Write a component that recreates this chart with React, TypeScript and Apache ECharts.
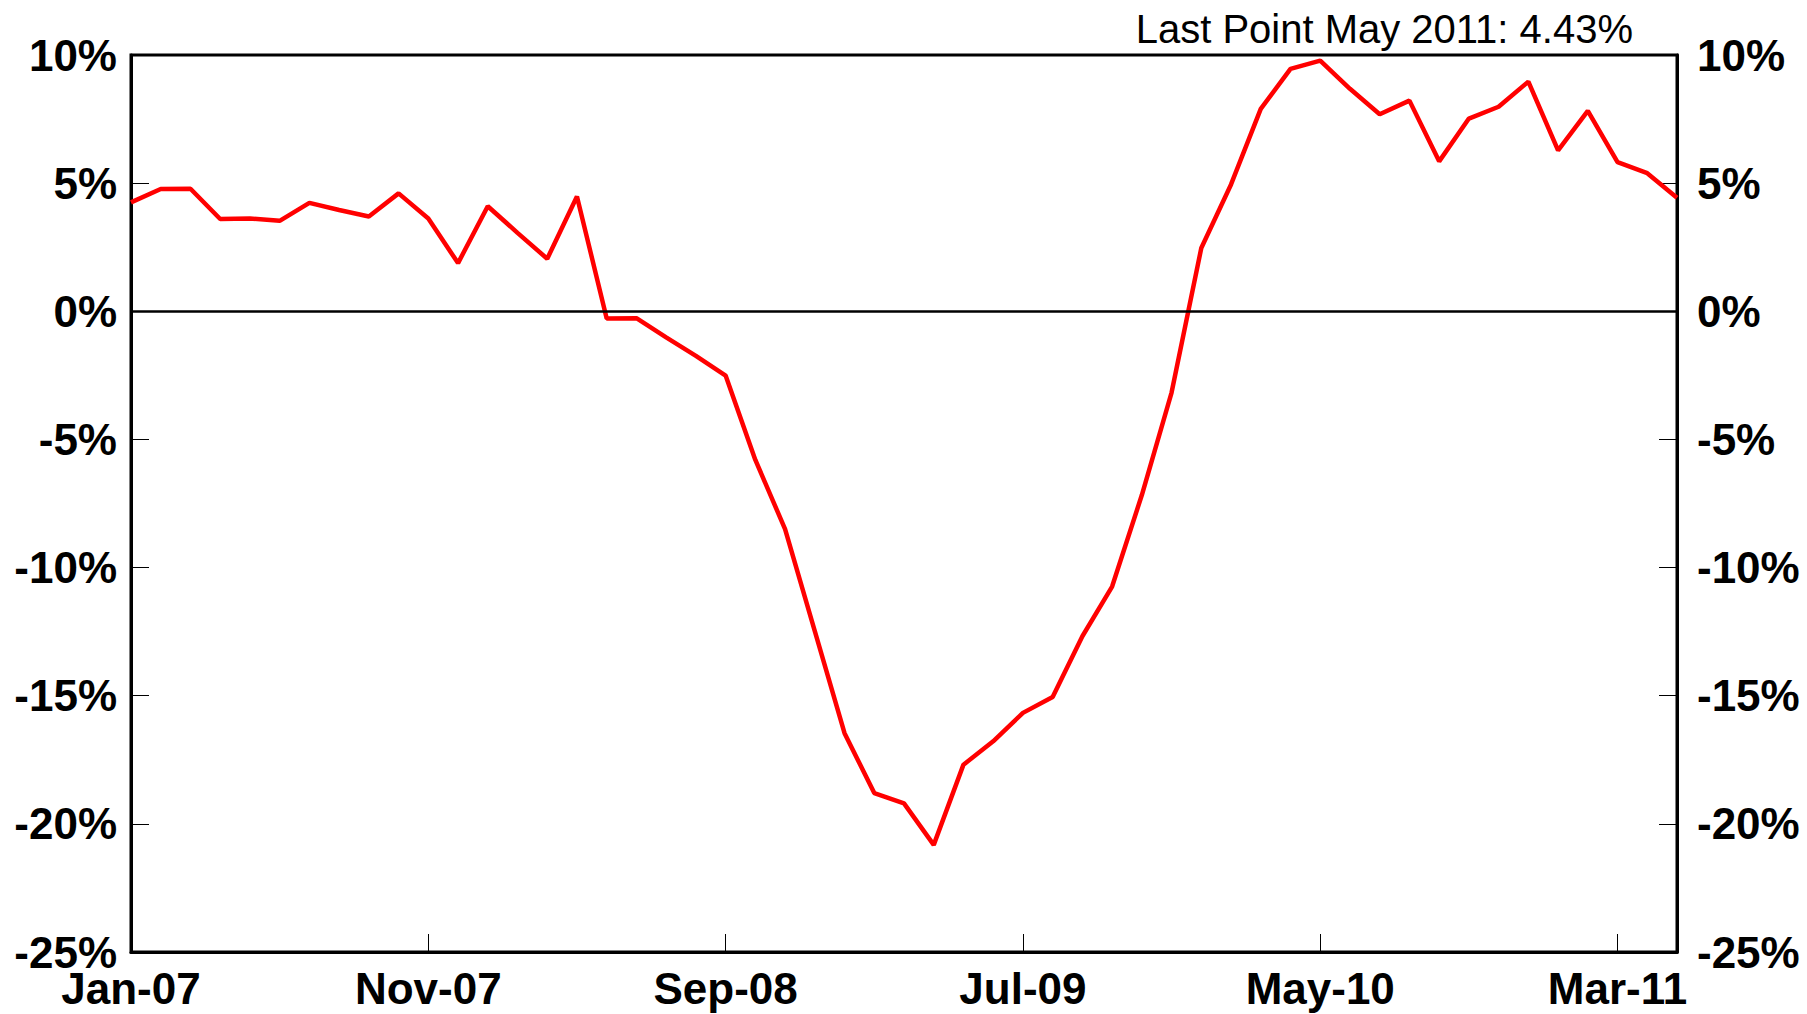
import React, { useEffect, useRef } from "react";
import * as echarts from "echarts";

const months = ["Jan","Feb","Mar","Apr","May","Jun","Jul","Aug","Sep","Oct","Nov","Dec"];
const categories: string[] = [];
for (let y = 2007; y <= 2011; y++) {
  for (let m = 0; m < 12; m++) {
    if (y === 2011 && m > 4) break;
    categories.push(`${months[m]}-${String(y).slice(2)}`);
  }
}

const values = [
  4.25, 4.77, 4.78, 3.60, 3.62, 3.53, 4.23, 3.95, 3.70, 4.60, 3.62, 1.88,
  4.10, 3.06, 2.05, 4.48, -0.28, -0.27, -1.02, -1.74, -2.51, -5.80, -8.50, -12.48,
  -16.46, -18.80, -19.20, -20.82, -17.69, -16.78, -15.67, -15.05, -12.68, -10.74, -7.17, -3.17,
  2.47, 4.95, 7.90, 9.46, 9.78, 8.68, 7.69, 8.22, 5.85, 7.52, 7.98, 8.96,
  6.28, 7.82, 5.82, 5.39, 4.43,
];

const yMin = -25;
const yMax = 10;
const yStep = 5;
const noteText = "Last Point May 2011: 4.43%";

export default function App() {
  const ref = useRef<HTMLDivElement>(null);
  useEffect(() => {
    if (!ref.current) return;
    const chart = echarts.init(ref.current, null, { renderer: "svg" });
    const font = "'Liberation Sans', Arial, sans-serif";
    const yAxisBase = (position: "left" | "right", margin: number) => ({
      type: "value" as const,
      position,
      min: yMin,
      max: yMax,
      interval: yStep,
      axisLine: { show: true, lineStyle: { color: "#000", width: 3 } },
      axisTick: { show: true, inside: true, length: 18, lineStyle: { color: "#000", width: 1 } },
      splitLine: { show: false },
      axisLabel: {
        margin,
        formatter: (v: number) => `${v}%`,
        color: "#000",
        fontFamily: font,
        fontWeight: "bold" as const,
        fontSize: 44,
      },
    });
    chart.setOption({
      animation: false,
      backgroundColor: "#fff",
      grid: {
        left: 131,
        right: 130,
        top: 55,
        bottom: 62,
        show: true,
        borderColor: "#000",
        borderWidth: 3,
        backgroundColor: "transparent",
      },
      xAxis: {
        type: "category",
        data: categories,
        boundaryGap: false,
        axisLine: { show: true, onZero: false, lineStyle: { color: "#000", width: 3 } },
        axisTick: { show: true, inside: true, length: 18, interval: 9, lineStyle: { color: "#000", width: 1 } },
        axisLabel: {
          interval: 9,
          margin: 14,
          color: "#000",
          fontFamily: font,
          fontWeight: "bold",
          fontSize: 44,
        },
        splitLine: { show: false },
      },
      yAxis: [yAxisBase("left", 14), { ...yAxisBase("right", 20) }],
      series: [
        {
          type: "line",
          data: values,
          yAxisIndex: 0,
          showSymbol: false,
          symbol: "none",
          lineStyle: { color: "#ff0000", width: 4.5 },
          markLine: {
            silent: true,
            symbol: "none",
            label: { show: false },
            lineStyle: { color: "#000", width: 2.5, type: "solid" },
            data: [{ yAxis: 0 }],
          },
          z: 3,
        },
      ],
      graphic: [
        {
          type: "text",
          x: 1633,
          y: 29,
          style: {
            text: noteText,
            textAlign: "right",
            textVerticalAlign: "middle",
            fontFamily: font,
            fontSize: 40,
            fill: "#000",
          },
        },
      ],
    });
    return () => chart.dispose();
  }, []);
  return (
    <div
      ref={ref}
      style={{ position: "fixed", left: 0, top: 0, width: 1807, height: 1014 }}
    />
  );
}
